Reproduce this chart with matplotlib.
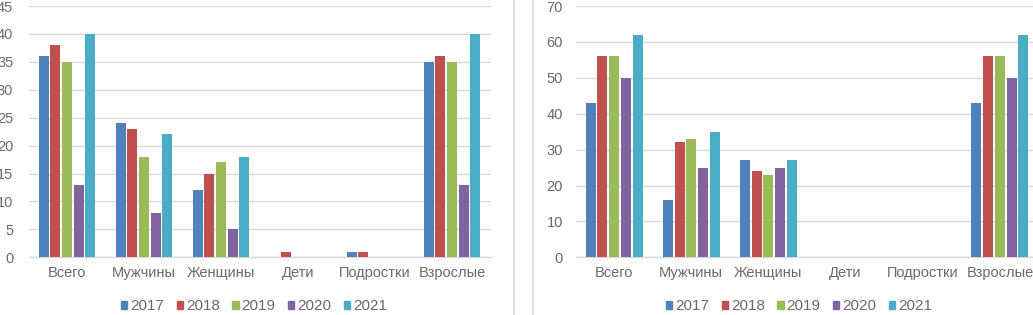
import matplotlib
matplotlib.use("Agg")
import matplotlib.pyplot as plt
from matplotlib.patches import Rectangle
from matplotlib.lines import Line2D
import numpy as np

categories = ["Всего", "Мужчины", "Женщины", "Дети", "Подростки", "Взрослые"]
years = ["2017", "2018", "2019", "2020", "2021"]

# Left chart values per year (across categories)
left_2017 = [36, 24, 12, 0, 1, 35]
left_2018 = [38, 23, 15, 1, 1, 36]
left_2019 = [35, 18, 17, 0, 0, 35]
left_2020 = [13, 8, 5, 0, 0, 13]
left_2021 = [40, 22, 18, 0, 0, 40]

# Right chart values per year
right_2017 = [43, 16, 27, 0, 0, 43]
right_2018 = [56, 32, 24, 0, 0, 56]
right_2019 = [56, 33, 23, 0, 0, 56]
right_2020 = [50, 25, 25, 0, 0, 50]
right_2021 = [62, 35, 27, 0, 0, 62]

colors = ["#4F81BD", "#C0504D", "#9BBB59", "#8064A2", "#4BACC6"]
text_color = "#6A6A6A"
grid_color = "#D9D9D9"

plt.rcParams['font.family'] = ['Liberation Sans', 'DejaVu Sans']

W, H = 1033, 315
fig = plt.figure(figsize=(W / 100, H / 100), dpi=100)

def px_axes(left, right, top, bottom):
    return fig.add_axes([left / W, 1 - bottom / H, (right - left) / W, (bottom - top) / H])

def draw(ax, series, ymax, ystep, ypad):
    x = np.arange(len(categories))
    step = 0.152
    width = 0.13
    for i, vals in enumerate(series):
        ax.bar(x + (i - 2) * step, vals, width=width, color=colors[i], zorder=3)
    ax.set_xlim(-0.5, len(categories) - 0.5)
    ax.set_ylim(0, ymax)
    ax.set_yticks(np.arange(0, ymax + 0.1, ystep))
    ax.set_xticks(x)
    ax.set_xticklabels(categories)
    ax.grid(axis='y', color=grid_color, linewidth=1, zorder=0)
    for s in ["top", "right", "left"]:
        ax.spines[s].set_visible(False)
    ax.spines["bottom"].set_color(grid_color)
    ax.spines["bottom"].set_linewidth(1)
    ax.tick_params(axis='both', length=0, labelcolor=text_color, labelsize=10.5)
    ax.tick_params(axis='y', pad=ypad)
    ax.tick_params(axis='x', pad=6)

ax1 = px_axes(28.5, 490.5, 6, 257.3)
draw(ax1, [left_2017, left_2018, left_2019, left_2020, left_2021], 45, 5, 11)

ax2 = px_axes(575.5, 1038.5, 6, 257.3)
draw(ax2, [right_2017, right_2018, right_2019, right_2020, right_2021], 70, 10, 9)

handles = [Rectangle((0, 0), 1, 1, color=c) for c in colors]
for cx in (254, 799):
    fig.legend(handles, years, loc='center', bbox_to_anchor=(cx / W, 1 - 306 / H),
               ncol=5, frameon=False, fontsize=11, handlelength=0.42, handleheight=0.42,
               handletextpad=0.2, columnspacing=0.8, labelcolor=text_color)

for xp in (514, 533):
    fig.add_artist(Line2D([xp / W, xp / W], [0, 1], color=grid_color, linewidth=1.2,
                          transform=fig.transFigure))

fig.savefig("out.png", dpi=100)
